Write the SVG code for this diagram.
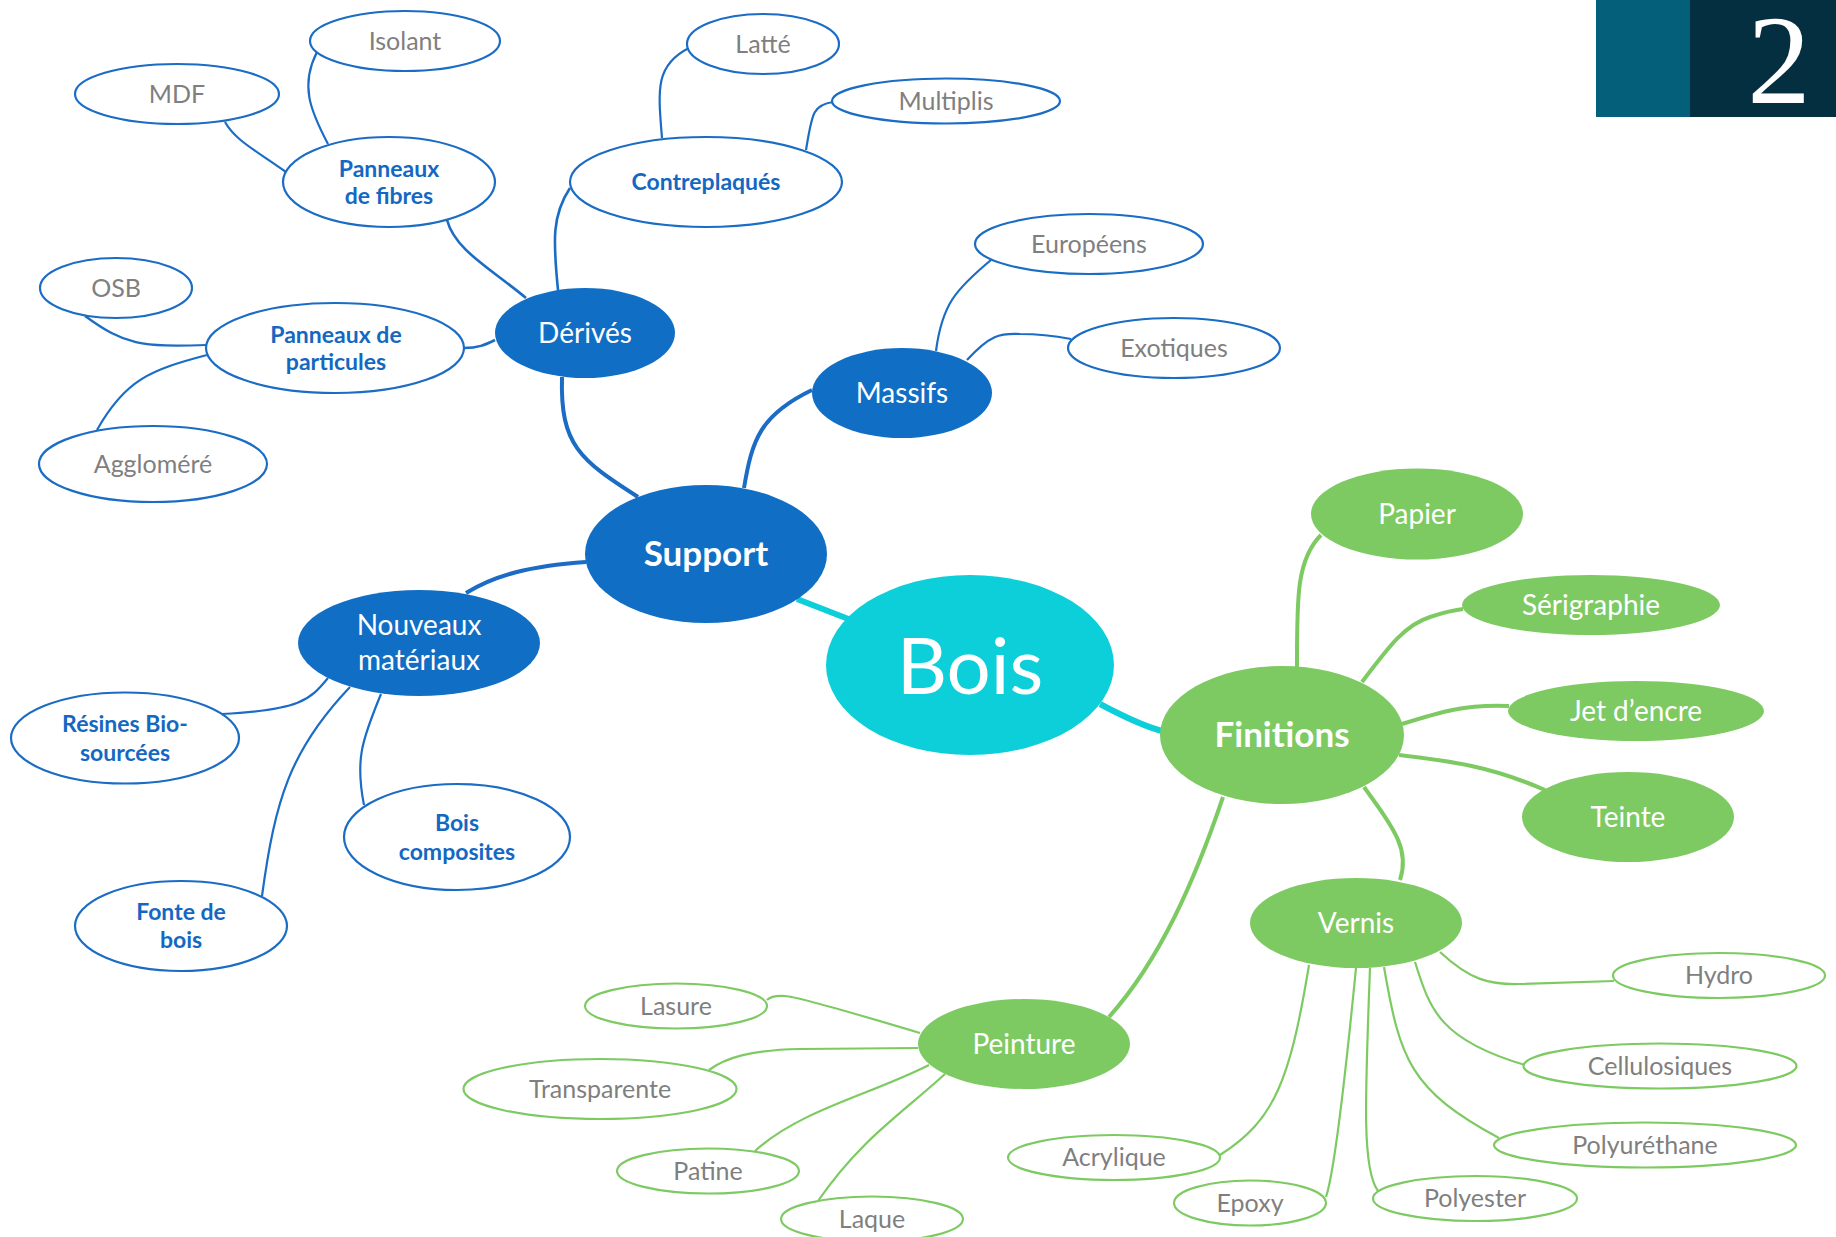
<svg xmlns="http://www.w3.org/2000/svg" width="1836" height="1237" viewBox="0 0 1836 1237">
<style>
.lb{fill:#fff;stroke:#1a6cc4;stroke-width:2.2}
.lg{fill:#fff;stroke:#7dca63;stroke-width:2.2}
.fb{fill:#106ec5}
.fg{fill:#7dca63}
.fc{fill:#0dcfd9}
text{font-family:Lato,"Liberation Sans",sans-serif;text-anchor:middle}
.tg{fill:#7f7f7f;font-size:25px}
.tb{fill:#1468c2;font-size:23px;font-weight:bold}
.tw{fill:#fff;font-size:28px}
.twb{fill:#fff;font-size:35px;font-weight:bold}
.cb{fill:none;stroke:#1a6cc4}
.cg{fill:none;stroke:#7dca63}
.cc{fill:none;stroke:#0dcfd9;stroke-width:6}
</style>
<rect x="0" y="0" width="1836" height="1237" fill="#fff"/>
<g id="badge">
<rect x="1596" y="0" width="94" height="117" fill="#04607a"/>
<rect x="1690" y="0" width="146" height="117" fill="#032f40"/>
<text x="1779" y="103" style="font-family:'Liberation Serif',serif;font-size:127px;fill:#fff">2</text>
</g>
<g id="connectors">
<path class="cc" d="M797 599 L851 620"/>
<path class="cc" d="M1100 704 C1130 720 1148 728 1166 732"/>
<g stroke-width="4">
<path class="cb" d="M562 377 C560 445 580 460 638 497"/>
<path class="cb" d="M744 488 C752 440 760 415 812 390"/>
<path class="cb" d="M586 562 C530 566 495 575 466 593"/>
<path class="cg" d="M1297 667 C1297 600 1296 560 1321 535"/>
<path class="cg" d="M1362 682 C1390 645 1405 625 1430 617 C1445 612 1455 610 1463 609"/>
<path class="cg" d="M1402 724 C1440 712 1465 704 1509 706"/>
<path class="cg" d="M1399 755 C1450 761 1490 766 1545 790"/>
<path class="cg" d="M1364 787 C1395 830 1410 850 1400 880"/>
<path class="cg" d="M1223 797 C1195 880 1160 960 1109 1017"/>
</g>
<g stroke-width="2.6">
<path class="cb" d="M558 290 C553 240 552 215 570 188"/>
<path class="cb" d="M526 298 C490 268 455 250 447 220"/>
<path class="cb" d="M495 340 C485 345 478 348 464 348"/>
</g>
<g stroke-width="2.2">
<path class="cb" d="M328 144 C310 110 300 85 317 52"/>
<path class="cb" d="M286 172 C255 150 235 140 225 122"/>
<path class="cb" d="M207 345 C140 347 125 345 85 316"/>
<path class="cb" d="M207 355 C150 370 125 380 97 430"/>
<path class="cb" d="M662 138 C658 90 655 65 689 48"/>
<path class="cb" d="M806 150 C812 115 812 105 833 102"/>
<path class="cb" d="M936 351 C942 305 955 290 991 260"/>
<path class="cb" d="M967 360 C990 335 1000 333 1020 334 C1040 334 1055 336 1071 339"/>
<path class="cb" d="M328 678 C310 700 300 710 222 714"/>
<path class="cb" d="M350 687 C290 750 275 800 262 896"/>
<path class="cb" d="M381 694 C362 740 355 760 364 805"/>
<path class="cg" d="M920 1033 C870 1018 800 997 785 996 Q772 995 767 1000"/>
<path class="cg" d="M918 1048 L800 1049 C750 1050 725 1058 709 1070"/>
<path class="cg" d="M929 1065 C870 1095 800 1110 755 1151"/>
<path class="cg" d="M945 1074 C900 1115 860 1140 818 1201"/>
<path class="cg" d="M1440 952 C1470 980 1490 985 1520 984 L1614 981"/>
<path class="cg" d="M1415 962 C1430 1010 1440 1040 1525 1065"/>
<path class="cg" d="M1384 967 C1400 1060 1410 1090 1499 1138"/>
<path class="cg" d="M1370 968 C1365 1100 1362 1170 1378 1191"/>
<path class="cg" d="M1356 968 C1345 1080 1335 1170 1326 1197"/>
<path class="cg" d="M1309 965 C1290 1080 1275 1120 1220 1155"/>
</g>
</g>
<g id="bois"><ellipse class="fc" cx="970" cy="665" rx="144" ry="90"/><text x="970" y="694" style="fill:#fff;font-size:78px">Bois</text></g>
<g id="support"><ellipse class="fb" cx="706" cy="554" rx="121" ry="69"/><text class="twb" x="706" y="566">Support</text></g>
<g id="finitions"><ellipse class="fg" cx="1282" cy="735" rx="122" ry="69"/><text class="twb" x="1282" y="747">Finitions</text></g>
<g id="derives"><ellipse class="fb" cx="585" cy="333" rx="90" ry="45"/><text class="tw" x="585" y="343">Dérivés</text></g>
<g id="massifs"><ellipse class="fb" cx="902" cy="393" rx="90" ry="45"/><text class="tw" x="902" y="403">Massifs</text></g>
<g id="nouveaux"><ellipse class="fb" cx="419" cy="643" rx="121" ry="53"/><text class="tw" x="419" y="635">Nouveaux</text><text class="tw" x="419" y="670">matériaux</text></g>
<g id="panneaux-fibres"><ellipse class="lb" cx="389" cy="182" rx="106" ry="45"/><text class="tb" x="389" y="177">Panneaux</text><text class="tb" x="389" y="204">de fibres</text></g>
<g id="panneaux-particules"><ellipse class="lb" cx="335" cy="348" rx="129" ry="45"/><text class="tb" x="336" y="343">Panneaux de</text><text class="tb" x="336" y="370">particules</text></g>
<g id="contreplaques"><ellipse class="lb" cx="706" cy="182" rx="136" ry="45"/><text class="tb" x="706" y="190">Contreplaqués</text></g>
<g id="isolant"><ellipse class="lb" cx="405" cy="41" rx="95" ry="30"/><text class="tg" x="405" y="50">Isolant</text></g>
<g id="mdf"><ellipse class="lb" cx="177" cy="94" rx="102" ry="30"/><text class="tg" x="177" y="103">MDF</text></g>
<g id="osb"><ellipse class="lb" cx="116" cy="288" rx="76" ry="30"/><text class="tg" x="116" y="297">OSB</text></g>
<g id="agglomere"><ellipse class="lb" cx="153" cy="464" rx="114" ry="38"/><text class="tg" x="153" y="473">Aggloméré</text></g>
<g id="latte"><ellipse class="lb" cx="763" cy="44" rx="76" ry="30"/><text class="tg" x="763" y="53">Latté</text></g>
<g id="multiplis"><ellipse class="lb" cx="946" cy="101" rx="114" ry="22.5"/><text class="tg" x="946" y="110">Multiplis</text></g>
<g id="europeens"><ellipse class="lb" cx="1089" cy="244" rx="114" ry="30"/><text class="tg" x="1089" y="253">Européens</text></g>
<g id="exotiques"><ellipse class="lb" cx="1174" cy="348" rx="106" ry="30"/><text class="tg" x="1174" y="357">Exotiques</text></g>
<g id="resines"><ellipse class="lb" cx="125" cy="738" rx="114" ry="45.5"/><text class="tb" x="125" y="732">Résines Bio-</text><text class="tb" x="125" y="761">sourcées</text></g>
<g id="bois-composites"><ellipse class="lb" cx="457" cy="837" rx="113" ry="53"/><text class="tb" x="457" y="831">Bois</text><text class="tb" x="457" y="860">composites</text></g>
<g id="fonte"><ellipse class="lb" cx="181" cy="926" rx="106" ry="45"/><text class="tb" x="181" y="920">Fonte de</text><text class="tb" x="181" y="948">bois</text></g>
<g id="papier"><ellipse class="fg" cx="1417" cy="514" rx="106" ry="45.5"/><text class="tw" x="1417" y="524">Papier</text></g>
<g id="serigraphie"><ellipse class="fg" cx="1591" cy="605" rx="129" ry="30"/><text class="tw" x="1591" y="615">Sérigraphie</text></g>
<g id="jet"><ellipse class="fg" cx="1636" cy="711" rx="128" ry="30"/><text class="tw" x="1636" y="721">Jet d’encre</text></g>
<g id="teinte"><ellipse class="fg" cx="1628" cy="817" rx="106" ry="45"/><text class="tw" x="1628" y="827">Teinte</text></g>
<g id="vernis"><ellipse class="fg" cx="1356" cy="923" rx="106" ry="45"/><text class="tw" x="1356" y="933">Vernis</text></g>
<g id="peinture"><ellipse class="fg" cx="1024" cy="1044" rx="106" ry="45"/><text class="tw" x="1024" y="1054">Peinture</text></g>
<g id="lasure"><ellipse class="lg" cx="676" cy="1006" rx="91" ry="22.5"/><text class="tg" x="676" y="1015">Lasure</text></g>
<g id="transparente"><ellipse class="lg" cx="600" cy="1089" rx="136.5" ry="30"/><text class="tg" x="600" y="1098">Transparente</text></g>
<g id="patine"><ellipse class="lg" cx="708" cy="1171" rx="91" ry="22.5"/><text class="tg" x="708" y="1180">Patine</text></g>
<g id="laque"><ellipse class="lg" cx="872" cy="1219" rx="91" ry="22.5"/><text class="tg" x="872" y="1228">Laque</text></g>
<g id="hydro"><ellipse class="lg" cx="1719" cy="975.5" rx="106" ry="22.5"/><text class="tg" x="1719" y="984">Hydro</text></g>
<g id="cellulosiques"><ellipse class="lg" cx="1660" cy="1066" rx="136.5" ry="22.5"/><text class="tg" x="1660" y="1075">Cellulosiques</text></g>
<g id="polyurethane"><ellipse class="lg" cx="1645" cy="1145" rx="151" ry="22.5"/><text class="tg" x="1645" y="1154">Polyuréthane</text></g>
<g id="polyester"><ellipse class="lg" cx="1475" cy="1198.5" rx="102" ry="22.5"/><text class="tg" x="1475" y="1207">Polyester</text></g>
<g id="epoxy"><ellipse class="lg" cx="1250" cy="1203" rx="76" ry="22.5"/><text class="tg" x="1250" y="1212">Epoxy</text></g>
<g id="acrylique"><ellipse class="lg" cx="1114" cy="1157.5" rx="106" ry="22.5"/><text class="tg" x="1114" y="1166">Acrylique</text></g>
</svg>
